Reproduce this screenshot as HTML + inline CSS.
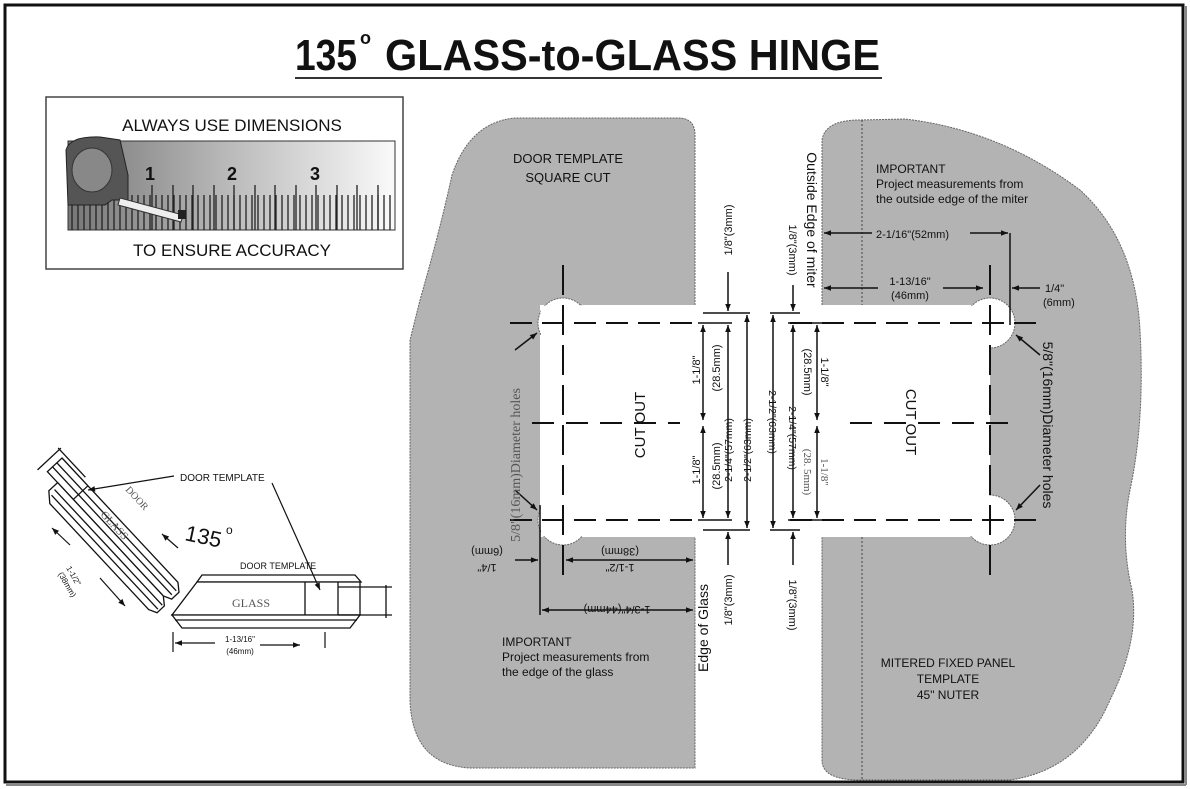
<!DOCTYPE html>
<html><head><meta charset="utf-8"><style>
html,body{margin:0;padding:0;background:#fff;}
svg{display:block;}
text{font-family:"Liberation Sans",sans-serif;fill:#111;}
.s{font-family:"Liberation Serif",serif;fill:#555;}
</style></head><body>
<svg width="1190" height="789" viewBox="0 0 1190 789" xmlns="http://www.w3.org/2000/svg">
<defs>
<marker id="a" viewBox="0 0 10 10" refX="10" refY="5" markerWidth="9" markerHeight="7" orient="auto-start-reverse" markerUnits="userSpaceOnUse"><path d="M0,1 L10,5 L0,9 z" fill="#111"/></marker>
<linearGradient id="rg" x1="0" x2="1" y1="0" y2="0"><stop offset="0" stop-color="#777"/><stop offset="0.5" stop-color="#bbb"/><stop offset="1" stop-color="#fafafa"/></linearGradient>
</defs>
<rect x="0" y="0" width="1190" height="789" fill="#fff"/>
<rect x="5" y="5" width="1178" height="777" fill="none" stroke="#111" stroke-width="3"/>
<line x1="6" y1="785" x2="1186" y2="785" stroke="#888" stroke-width="2"/>
<line x1="1186" y1="6" x2="1186" y2="785" stroke="#888" stroke-width="2"/>

<!-- Title -->
<text x="295" y="70" font-size="44" font-weight="bold" textLength="62" lengthAdjust="spacingAndGlyphs">135</text>
<text x="360" y="44" font-size="18" font-weight="bold">o</text>
<text x="385" y="70" font-size="44" font-weight="bold" textLength="495" lengthAdjust="spacingAndGlyphs">GLASS-to-GLASS HINGE</text>
<line x1="295" y1="78" x2="882" y2="78" stroke="#333" stroke-width="2"/>

<!-- Ruler box -->
<rect x="46" y="97" width="357" height="172" fill="#fff" stroke="#444" stroke-width="1.5"/>
<text x="232" y="131" font-size="17" text-anchor="middle">ALWAYS USE DIMENSIONS</text>
<rect x="68" y="141" width="327" height="89" fill="url(#rg)" stroke="#333"/>
<g stroke="#222" stroke-width="1.3">
<path d="M72 195V230M78 195V230M84 195V230M90 195V230M96 195V230M102 195V230M108 195V230M114 195V230M120 195V230M126 195V230M132 195V230M138 195V230M144 195V230M150 195V230M156 195V230M162 195V230M168 195V230M174 195V230M180 195V230M186 195V230M192 195V230M198 195V230M204 195V230M210 195V230M216 195V230M222 195V230M228 195V230M234 195V230M240 195V230M246 195V230M252 195V230M258 195V230M264 195V230M270 195V230M276 195V230M282 195V230M288 195V230M294 195V230M300 195V230M306 195V230M312 195V230M318 195V230M324 195V230M330 195V230M336 195V230M342 195V230M348 195V230M354 195V230M360 195V230M366 195V230M372 195V230M378 195V230M384 195V230M390 195V230"/>
<path d="M152 185V230M173 185V230M193 185V230M214 185V230M234 185V230M255 185V230M275 185V230M296 185V230M316 185V230M337 185V230M357 185V230M378 185V230"/>
</g>
<text x="150" y="180" font-size="18" font-weight="bold" text-anchor="middle">1</text>
<text x="232" y="180" font-size="18" font-weight="bold" text-anchor="middle">2</text>
<text x="315" y="180" font-size="18" font-weight="bold" text-anchor="middle">3</text>
<path d="M66 150 Q70 136 100 137 L120 140 L128 175 L128 200 L112 200 L105 205 L68 205 Z" fill="#555" stroke="#222"/>
<ellipse cx="92" cy="170" rx="20" ry="22" fill="#888" stroke="#333"/>
<path d="M120 198 L183 215 L181 222 L118 205 Z" fill="#eee" stroke="#333"/>
<rect x="178" y="210" width="8" height="9" fill="#222"/>
<text x="232" y="256" font-size="17" text-anchor="middle">TO ENSURE ACCURACY</text>

<!-- Left gray template -->
<path d="M695 305 L695 135 Q695 118 678 118 L515 118 Q470 122 452 175 Q440 230 420 300 L410 340 L410 700 Q412 765 470 768 L695 768 L695 537 Z" fill="#b3b3b3" stroke="#666" stroke-width="1" stroke-dasharray="2 1"/>
<rect x="540" y="305" width="160" height="232" fill="#fff"/>
<circle cx="563" cy="323" r="25" fill="#fff" stroke="#666" stroke-dasharray="2 1"/>
<circle cx="563" cy="520" r="25" fill="#fff" stroke="#666" stroke-dasharray="2 1"/>
<rect x="541" y="306" width="158" height="230" fill="#fff"/>

<!-- Right gray template -->
<path d="M822 305 L822 140 Q825 120 860 120 L905 119 Q1000 130 1080 190 Q1135 240 1140 330 Q1145 420 1130 490 Q1120 540 1132 590 Q1140 640 1110 700 Q1080 770 1010 780 L860 780 Q822 780 822 760 L822 537 Z" fill="#b3b3b3" stroke="#666" stroke-dasharray="2 1"/>
<rect x="815" y="305" width="175" height="232" fill="#fff"/>
<circle cx="990" cy="323" r="25" fill="#fff" stroke="#666" stroke-dasharray="2 1"/>
<circle cx="990" cy="520" r="25" fill="#fff" stroke="#666" stroke-dasharray="2 1"/>
<rect x="815" y="306" width="174" height="230" fill="#fff"/>
<line x1="862" y1="120" x2="862" y2="305" stroke="#444" stroke-dasharray="2 2"/>
<line x1="862" y1="537" x2="862" y2="780" stroke="#444" stroke-dasharray="2 2"/>

<!-- dashed template lines -->
<g stroke="#111" stroke-width="2" fill="none">
<line x1="510" y1="323" x2="700" y2="323" stroke-dasharray="22 10"/>
<line x1="510" y1="520" x2="700" y2="520" stroke-dasharray="22 10"/>
<line x1="563" y1="265" x2="563" y2="580" stroke-dasharray="30 10"/>
<line x1="532" y1="423" x2="680" y2="423" stroke-dasharray="22 12"/>
<line x1="540" y1="505" x2="540" y2="615" stroke-width="1.5"/>
<line x1="790" y1="323" x2="1042" y2="323" stroke-dasharray="22 10"/>
<line x1="790" y1="520" x2="1042" y2="520" stroke-dasharray="22 10"/>
<line x1="990" y1="265" x2="990" y2="578" stroke-dasharray="30 10"/>
<line x1="850" y1="423" x2="1018" y2="423" stroke-dasharray="22 12"/>
</g>
<text transform="translate(645,425) rotate(-90)" font-size="15" text-anchor="middle">CUT OUT</text>
<text transform="translate(906,422) rotate(90)" font-size="15" text-anchor="middle">CUT OUT</text>

<!-- Middle dimensions -->
<g stroke="#111" stroke-width="1.5" fill="none">
<line x1="703" y1="313" x2="750" y2="313"/><line x1="703" y1="530" x2="750" y2="530"/>
<line x1="698" y1="323" x2="732" y2="323"/><line x1="698" y1="520" x2="732" y2="520"/>
<line x1="703" y1="325" x2="703" y2="420" marker-start="url(#a)" marker-end="url(#a)"/>
<line x1="703" y1="426" x2="703" y2="518" marker-start="url(#a)" marker-end="url(#a)"/>
<line x1="728" y1="325" x2="728" y2="518" marker-start="url(#a)" marker-end="url(#a)"/>
<line x1="747" y1="315" x2="747" y2="528" marker-start="url(#a)" marker-end="url(#a)"/>
<line x1="728" y1="272" x2="728" y2="311" marker-end="url(#a)"/>
<line x1="728" y1="565" x2="728" y2="532" marker-end="url(#a)"/>
<line x1="770" y1="313" x2="800" y2="313"/><line x1="770" y1="530" x2="800" y2="530"/>
<line x1="788" y1="323" x2="825" y2="323"/><line x1="788" y1="520" x2="825" y2="520"/>
<line x1="773" y1="315" x2="773" y2="528" marker-start="url(#a)" marker-end="url(#a)"/>
<line x1="793" y1="325" x2="793" y2="518" marker-start="url(#a)" marker-end="url(#a)"/>
<line x1="817" y1="325" x2="817" y2="420" marker-start="url(#a)" marker-end="url(#a)"/>
<line x1="817" y1="426" x2="817" y2="518" marker-start="url(#a)" marker-end="url(#a)"/>
<line x1="793" y1="285" x2="793" y2="311" marker-end="url(#a)"/>
<line x1="793" y1="565" x2="793" y2="532" marker-end="url(#a)"/>
</g>
<g font-size="11">
<text transform="translate(700,370) rotate(-90)" text-anchor="middle">1-1/8"</text>
<text transform="translate(720,368) rotate(-90)" text-anchor="middle">(28.5mm)</text>
<text transform="translate(700,470) rotate(-90)" text-anchor="middle">1-1/8"</text>
<text transform="translate(720,466) rotate(-90)" text-anchor="middle">(28.5mm)</text>
<text transform="translate(732,450) rotate(-90)" text-anchor="middle" font-size="10.5">2-1/4"(57mm)</text>
<text transform="translate(751,450) rotate(-90)" text-anchor="middle" font-size="10.5">2-1/2"(63mm)</text>
<text transform="translate(732,230) rotate(-90)" text-anchor="middle">1/8"(3mm)</text>
<text transform="translate(732,600) rotate(-90)" text-anchor="middle">1/8"(3mm)</text>
<text transform="translate(769,422) rotate(90)" text-anchor="middle" font-size="10.5">2-1/2"(63mm)</text>
<text transform="translate(789,438) rotate(90)" text-anchor="middle" font-size="10.5">2-1/4"(57mm)</text>
<text transform="translate(804,372) rotate(90)" text-anchor="middle">(28.5mm)</text>
<text transform="translate(821,372) rotate(90)" text-anchor="middle">1-1/8"</text>
<text transform="translate(804,472) rotate(90)" text-anchor="middle" class="s">(28. 5mm)</text>
<text transform="translate(821,472) rotate(90)" text-anchor="middle" class="s">1-1/8"</text>
<text transform="translate(789,250) rotate(90)" text-anchor="middle">1/8"(3mm)</text>
<text transform="translate(789,605) rotate(90)" text-anchor="middle">1/8"(3mm)</text>
</g>
<text transform="translate(708,628) rotate(-90)" font-size="14" text-anchor="middle">Edge of Glass</text>
<text transform="translate(807,220) rotate(90)" font-size="14" text-anchor="middle">Outside Edge of miter</text>

<g stroke="#111" stroke-width="1.5" fill="none">
<line x1="566" y1="560" x2="693" y2="560" marker-start="url(#a)" marker-end="url(#a)"/>
<line x1="515" y1="560" x2="538" y2="560" marker-end="url(#a)"/>
<line x1="542" y1="610" x2="693" y2="610" marker-start="url(#a)" marker-end="url(#a)"/>
<line x1="515" y1="350" x2="537" y2="333" marker-end="url(#a)"/>
<line x1="515" y1="490" x2="537" y2="510" marker-end="url(#a)"/>
<line x1="1040" y1="355" x2="1016" y2="335" marker-end="url(#a)"/>
<line x1="1040" y1="485" x2="1016" y2="510" marker-end="url(#a)"/>
<line x1="872" y1="233" x2="824" y2="233" marker-end="url(#a)"/>
<line x1="970" y1="233" x2="1008" y2="233" marker-end="url(#a)"/>
<line x1="1010" y1="233" x2="1010" y2="325"/>
<line x1="878" y1="288" x2="824" y2="288" marker-end="url(#a)"/>
<line x1="943" y1="288" x2="983" y2="288" marker-end="url(#a)"/>
<line x1="1040" y1="288" x2="1012" y2="288" marker-end="url(#a)"/>
</g>
<g font-size="11">
<text transform="translate(620,548) rotate(180)" text-anchor="middle">(38mm)</text>
<text transform="translate(620,564) rotate(180)" text-anchor="middle">1-1/2"</text>
<text transform="translate(487,548) rotate(180)" text-anchor="middle">(6mm)</text>
<text transform="translate(487,564) rotate(180)" text-anchor="middle">1/4"</text>
<text transform="translate(617,606) rotate(180)" text-anchor="middle">1-3/4"(44mm)</text>
<text x="876" y="238">2-1/16"(52mm)</text>
<text x="910" y="285" text-anchor="middle">1-13/16"</text>
<text x="910" y="299" text-anchor="middle">(46mm)</text>
<text x="1045" y="292">1/4"</text>
<text x="1043" y="306">(6mm)</text>
</g>
<text transform="translate(520,465) rotate(-90)" font-size="14" text-anchor="middle" class="s">5/8"(16mm)Diameter holes</text>
<text transform="translate(1043,425) rotate(90)" font-size="14" text-anchor="middle">5/8"(16mm)Diameter holes</text>

<g font-size="13">
<text x="568" y="163" text-anchor="middle">DOOR TEMPLATE</text>
<text x="568" y="182" text-anchor="middle">SQUARE CUT</text>
</g>
<g font-size="12">
<text x="502" y="646">IMPORTANT</text>
<text x="502" y="661">Project measurements from</text>
<text x="502" y="676">the edge of the glass</text>
<text x="876" y="173">IMPORTANT</text>
<text x="876" y="188">Project measurements from</text>
<text x="876" y="203">the outside edge of the miter</text>
<text x="948" y="667" text-anchor="middle">MITERED FIXED PANEL</text>
<text x="948" y="683" text-anchor="middle">TEMPLATE</text>
<text x="948" y="699" text-anchor="middle">45" NUTER</text>
</g>

<!-- Lower left hinge sketch -->
<g stroke="#111" stroke-width="1.3" fill="#fff">
<g transform="translate(62,458) rotate(47)">
<path d="M0 0 L170 0 L178 6 L178 16 L170 20 L0 20 Z"/>
<line x1="0" y1="7" x2="175" y2="7"/>
<line x1="0" y1="13" x2="175" y2="13"/>
<path d="M15 20 L170 20 L178 26 L178 36 L170 40 L25 40 L15 32 Z"/>
<line x1="18" y1="27" x2="176" y2="27"/>
<line x1="20" y1="33" x2="176" y2="33"/>
<line x1="38" y1="0" x2="38" y2="20"/>
<line x1="-8" y1="-6" x2="-8" y2="26"/>
<line x1="-10" y1="-4" x2="30" y2="-4"/>
</g>
<path d="M202 575 L355 575 L361 582 L197 582 Z"/>
<path d="M197 582 L360 582 L360 615 L172 615 Z"/>
<line x1="305" y1="582" x2="305" y2="615"/>
<line x1="338" y1="582" x2="338" y2="615"/>
<path d="M172 615 L360 615 L350 628 L182 628 Z"/>
<line x1="175" y1="620" x2="357" y2="620"/>
<line x1="338" y1="587" x2="392" y2="587"/>
<line x1="338" y1="615" x2="392" y2="615"/>
<line x1="386" y1="585" x2="386" y2="618"/>
</g>
<g stroke="#111" stroke-width="1.2" fill="none">
<line x1="174" y1="476" x2="88" y2="490" marker-end="url(#a)"/>
<line x1="272" y1="483" x2="320" y2="590" marker-end="url(#a)"/>
<line x1="178" y1="548" x2="162" y2="534" marker-end="url(#a)"/>
<line x1="173" y1="632" x2="173" y2="652"/>
<line x1="325" y1="632" x2="325" y2="648"/>
<line x1="215" y1="643" x2="175" y2="643" marker-end="url(#a)"/>
<line x1="260" y1="645" x2="300" y2="645" marker-end="url(#a)"/>
<line x1="70" y1="545" x2="52" y2="528" marker-end="url(#a)"/>
<line x1="100" y1="578" x2="125" y2="606" marker-end="url(#a)"/>
</g>
<text x="180" y="481" font-size="10">DOOR TEMPLATE</text>
<text x="240" y="569" font-size="9">DOOR TEMPLATE</text>
<text x="232" y="607" font-size="12" class="s">GLASS</text>
<text transform="translate(100,515) rotate(47)" font-size="11" class="s">GLASS</text>
<text transform="translate(125,490) rotate(47)" font-size="10" class="s">DOOR</text>
<text transform="translate(184,540) rotate(12)" font-size="22" fill="#111">135</text>
<text x="226" y="534" font-size="12">o</text>
<text transform="translate(66,568) rotate(60)" font-size="8">1-1/2"</text>
<text transform="translate(58,574) rotate(60)" font-size="8">(38mm)</text>
<text x="240" y="642" font-size="8" text-anchor="middle">1-13/16"</text>
<text x="240" y="654" font-size="8" text-anchor="middle">(46mm)</text>
</svg>
</body></html>
